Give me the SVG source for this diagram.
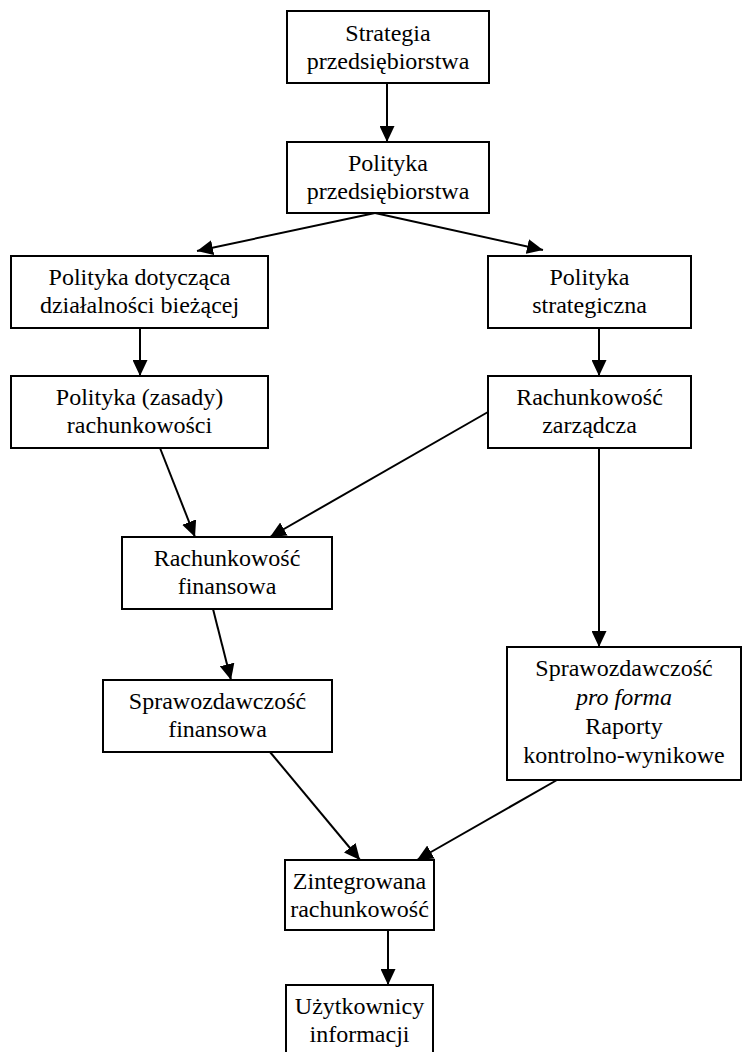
<svg xmlns="http://www.w3.org/2000/svg" width="743" height="1052" viewBox="0 0 743 1052">
<style>
.box{fill:#fff;stroke:#000;stroke-width:2}
.t{font-family:"Liberation Serif","Times New Roman",serif;font-size:24px;fill:#000;text-anchor:middle}
.c line{stroke:#000;stroke-width:2;marker-end:url(#ah)}
</style>
<defs>
<marker id="ah" markerUnits="userSpaceOnUse" markerWidth="17" markerHeight="15" refX="16" refY="7.5" orient="auto" viewBox="0 0 17 15">
<path d="M0,0 L16,7.5 L0,15 z" fill="#000"/>
</marker>
</defs>
<rect width="743" height="1052" fill="#fff"/>
<g id="n1"><rect class="box" x="287" y="11" width="202" height="72"/><text class="t" x="388" y="41">Strategia</text><text class="t" x="388" y="69">przedsiębiorstwa</text></g>
<g id="n2"><rect class="box" x="287" y="142" width="202" height="71"/><text class="t" x="388" y="171">Polityka</text><text class="t" x="388" y="199">przedsiębiorstwa</text></g>
<g id="n3"><rect class="box" x="11" y="256" width="257" height="72"/><text class="t" x="139.5" y="285">Polityka dotycząca</text><text class="t" x="139.5" y="313">działalności bieżącej</text></g>
<g id="n4"><rect class="box" x="11" y="376" width="257" height="72"/><text class="t" x="139.5" y="405">Polityka (zasady)</text><text class="t" x="139.5" y="433">rachunkowości</text></g>
<g id="n5"><rect class="box" x="488" y="256" width="203" height="72"/><text class="t" x="589.5" y="285">Polityka</text><text class="t" x="589.5" y="313">strategiczna</text></g>
<g id="n6"><rect class="box" x="488" y="376" width="203" height="72"/><text class="t" x="589.5" y="405">Rachunkowość</text><text class="t" x="589.5" y="433">zarządcza</text></g>
<g id="n7"><rect class="box" x="122" y="537" width="210" height="72"/><text class="t" x="227" y="566">Rachunkowość</text><text class="t" x="227" y="594">finansowa</text></g>
<g id="n8"><rect class="box" x="103" y="680" width="229" height="72"/><text class="t" x="217.5" y="709">Sprawozdawczość</text><text class="t" x="217.5" y="737">finansowa</text></g>
<g id="n9"><rect class="box" x="507" y="647" width="234" height="133"/><text class="t" x="624" y="676">Sprawozdawczość</text><text class="t" x="624" y="705" font-style="italic">pro forma</text><text class="t" x="624" y="734">Raporty</text><text class="t" x="624" y="763">kontrolno-wynikowe</text></g>
<g id="n10"><rect class="box" x="285" y="860" width="149" height="70"/><text class="t" x="359.5" y="889">Zintegrowana</text><text class="t" x="359.5" y="917">rachunkowość</text></g>
<g id="n11"><rect class="box" x="286" y="985" width="147" height="80"/><text class="t" x="359.5" y="1014">Użytkownicy</text><text class="t" x="359.5" y="1042">informacji</text></g>
<g id="connectors" class="c">
<line x1="387" y1="83" x2="387" y2="142"/>
<line x1="375" y1="213" x2="197" y2="251"/>
<line x1="375" y1="213" x2="543" y2="250"/>
<line x1="140" y1="328" x2="140" y2="376"/>
<line x1="599" y1="328" x2="599" y2="376"/>
<line x1="160" y1="448" x2="195" y2="537"/>
<line x1="488" y1="412" x2="270" y2="537"/>
<line x1="213" y1="609" x2="231" y2="680"/>
<line x1="599" y1="448" x2="599" y2="647"/>
<line x1="270" y1="752" x2="360" y2="860"/>
<line x1="557" y1="780" x2="417" y2="860"/>
<line x1="388" y1="930" x2="388" y2="985"/>
</g>
</svg>
